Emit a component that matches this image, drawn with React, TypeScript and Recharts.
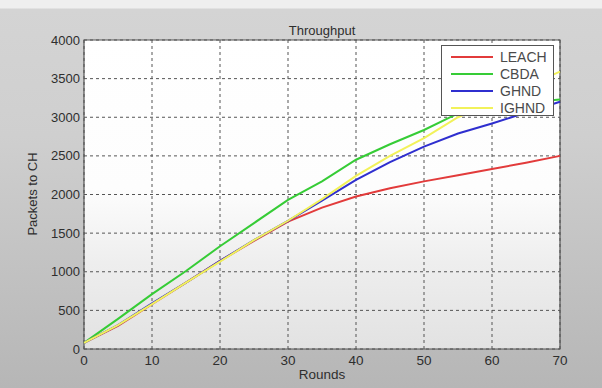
import {
  CartesianGrid,
  Legend,
  Line,
  LineChart,
  ReferenceArea,
  XAxis,
  YAxis,
} from "recharts";

const seriesNames = ["LEACH", "CBDA", "GHND", "IGHND"];
const seriesColors = ["#e23b3b", "#36cc36", "#2f2fcf", "#f2f25a"];

const rounds = [0, 5, 10, 15, 20, 25, 30, 35, 40, 45, 50, 55, 60, 65, 70];
const leach = [80, 300, 580, 860, 1140, 1400, 1650, 1830, 1975, 2080, 2170, 2250, 2330, 2410, 2500];
const cbda = [80, 390, 710, 1010, 1330, 1630, 1930, 2170, 2450, 2650, 2835, 3050, 3130, 3190, 3230];
const ghnd = [80, 310, 590, 860, 1140, 1410, 1660, 1920, 2190, 2420, 2620, 2790, 2920, 3060, 3200];
const ighnd = [80, 310, 580, 860, 1130, 1410, 1660, 1940, 2240, 2500, 2730, 3000, 3210, 3400, 3590];

const xTicks = [0, 10, 20, 30, 40, 50, 60, 70];
const yTicks = [0, 500, 1000, 1500, 2000, 2500, 3000, 3500, 4000];

const data = rounds.map((r, i) => ({
  round: r,
  LEACH: leach[i],
  CBDA: cbda[i],
  GHND: ghnd[i],
  IGHND: ighnd[i],
}));

const FONT = "'Liberation Sans', Arial, sans-serif";
const TEXT = "#2e2e2e";

// MATLAB-ish boxed legend, kept in plot order (not sorted)
const LegendBox = () => (
  <div
    style={{
      background: "#fff",
      border: "1px solid #555",
      width: 113,
      height: 71,
      boxSizing: "border-box",
      padding: "2px 0 0 9px",
      fontFamily: FONT,
      fontSize: 14,
      color: "#4a4a4a",
    }}
  >
    {seriesNames.map((name, i) => (
      <div key={name} style={{ display: "flex", alignItems: "center", height: 17 }}>
        <span style={{ width: 42, height: 2, background: seriesColors[i], marginRight: 7 }} />
        <span>{name}</span>
      </div>
    ))}
  </div>
);

export default function App() {
  return (
    <div
      style={{
        position: "absolute",
        left: 0,
        top: 0,
        width: 602,
        height: 388,
        background:
          "linear-gradient(to bottom, #efefef 0px, #efefef 8px, #d4d4d4 9px, #cfcfcf 35%, #b6b6b6 100%)",
        fontFamily: FONT,
        overflow: "hidden",
      }}
    >
      {/* plot area background */}
      <div
        style={{
          position: "absolute",
          left: 84,
          top: 40,
          width: 476,
          height: 309,
          background: "linear-gradient(to bottom, #ffffff 0%, #fdfdfd 48%, #eeeeee 72%, #e2e2e2 100%)",
        }}
      />
      <div
        style={{
          position: "absolute",
          left: 0,
          top: 23,
          width: 644,
          textAlign: "center",
          fontSize: 13,
          color: TEXT,
        }}
      >
        Throughput
      </div>
      <div
        style={{
          position: "absolute",
          left: 0,
          top: 367,
          width: 644,
          textAlign: "center",
          fontSize: 13.5,
          color: TEXT,
        }}
      >
        Rounds
      </div>
      <div
        style={{
          position: "absolute",
          left: 32,
          top: 194,
          transform: "translate(-50%, -50%) rotate(-90deg)",
          whiteSpace: "nowrap",
          fontSize: 13,
          color: TEXT,
        }}
      >
        Packets to CH
      </div>
      <div style={{ position: "absolute", left: 0, top: 0 }}>
        <LineChart
          width={602}
          height={388}
          data={data}
          margin={{ top: 40, right: 42, bottom: 9, left: 24 }}
        >
          <CartesianGrid stroke="#555" strokeDasharray="3 3" />
          <XAxis
            dataKey="round"
            type="number"
            domain={[0, 70]}
            ticks={xTicks}
            height={30}
            axisLine={false}
            tickLine={false}
            tickSize={0}
            tickMargin={6}
            tick={{ fill: TEXT, fontSize: 13.5, fontFamily: FONT }}
          />
          <YAxis
            type="number"
            domain={[0, 4000]}
            ticks={yTicks}
            width={60}
            axisLine={false}
            tickLine={false}
            tickSize={0}
            tickMargin={4}
            tick={{ fill: TEXT, fontSize: 13, fontFamily: FONT }}
          />
          <ReferenceArea x1={0} x2={70} y1={0} y2={4000} fill="none" stroke="#555" strokeWidth={1.2} />
          {seriesNames.map((name, i) => (
            <Line
              key={name}
              type="linear"
              dataKey={name}
              stroke={seriesColors[i]}
              strokeWidth={2}
              dot={false}
              isAnimationActive={false}
            />
          ))}
          <Legend
            layout="vertical"
            align="center"
            verticalAlign="middle"
            content={<LegendBox />}
            wrapperStyle={{ left: 441, top: 45, right: "auto", bottom: "auto", width: 113 }}
          />
        </LineChart>
      </div>
    </div>
  );
}
